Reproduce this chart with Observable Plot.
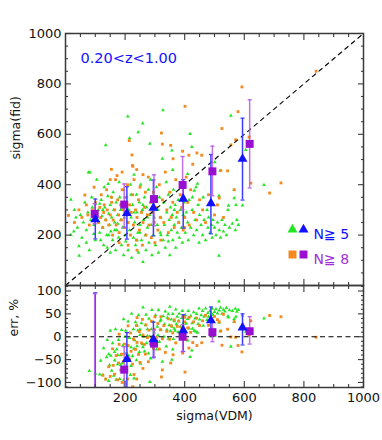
<!DOCTYPE html>
<html><head><meta charset="utf-8">
<script src="https://cdn.jsdelivr.net/npm/d3@7"></script>
<script src="https://cdn.jsdelivr.net/npm/@observablehq/plot@0.6"></script>
<style>
body{margin:0;background:#fff;}
#chart{position:relative;width:382px;height:440px;overflow:hidden;}
#chart svg{display:block;position:absolute;left:0;overflow:visible;}
</style></head><body><div id="chart"></div>
<script>
// ---- axes / ticks ----
const xDomain = [0, 1000];
const fidDomain = [0, 1000];
const errDomain = [-111, 112];
const xTickLabels = [200, 400, 600, 800, 1000];
const xMinorTicks = [50,100,150,250,300,350,450,500,550,650,700,750,850,900,950];
const fidTickLabels = [200, 400, 600, 800, 1000];
const fidMinorTicks = [50,100,150,250,300,350,450,500,550,650,700,750,850,900,950];
const errTickLabels = [-100, -50, 0, 50, 100];
const errMinorTicks = [-110,-90,-80,-70,-60,-40,-30,-20,-10,10,20,30,40,60,70,80,90,110];

// ---- scatter: individual clusters [sigma(VDM), sigma(fid)] ----
const greenPts = [
[18,341],[18,201],[45,156],[46,118],[77,449],[30,300],[50,280],[60,250],[70,220],[65,330],[85,260],[90,310],[70,170],[40,230],[95,205],[55,190],[35,270],[88,350],[95,240],[80,140],[75,290],[28,215],[100,180],[100,325],
[105,420],[110,300],[112,250],[115,210],[118,180],[120,340],[122,275],[125,230],[128,160],[130,390],[132,310],[135,557],[135,260],[138,200],[140,150],[142,355],[145,285],[148,240],[150,130],[150,320],[152,215],[155,270],[158,180],[160,370],[162,300],[165,250],[168,140],[170,330],[172,220],[175,280],[178,190],[180,410],[182,350],[185,260],[188,160],[190,300],[192,230],[195,120],[196,380],[198,270],[200,200],[200,330],[105,270],[125,300],[145,200],[165,220],[185,300],[175,245],[155,350],[115,325],[143,403],[82,449],
[202,175],[205,350],[208,250],[209,671],[210,140],[212,300],[215,585],[215,220],[218,400],[220,270],[222,110],[225,320],[228,190],[230,440],[232,250],[235,160],[238,360],[240,290],[243,210],[244,608],[245,130],[248,330],[250,240],[252,400],[255,180],[258,300],[259,643],[260,94],[262,260],[265,350],[268,200],[270,140],[272,310],[275,230],[278,380],[280,170],[283,563],[282,280],[285,420],[288,240],[290,120],[292,330],[295,200],[298,270],[220,360],[240,180],[260,320],[275,270],[250,210],[230,290],
[302,160],[305,390],[308,240],[310,300],[312,130],[315,350],[318,210],[320,270],[325,503],[327,696],[328,180],[330,330],[332,240],[335,150],[338,410],[340,290],[342,200],[345,360],[348,260],[350,120],[352,310],[355,220],[357,536],[358,280],[360,459],[360,180],[362,380],[365,240],[368,320],[370,150],[372,270],[375,210],[378,340],[380,250],[382,190],[385,300],[388,400],[390,230],[392,170],[395,280],[398,330],[320,200],[345,175],[365,300],
[402,210],[405,290],[410,250],[410,443],[412,180],[415,340],[418,602],[420,230],[424,550],[426,350],[425,300],[430,200],[432,376],[435,260],[438,390],[440,220],[443,404],[445,320],[448,170],[450,280],[455,240],[460,200],[462,350],[465,260],[470,180],[475,300],[478,230],[480,270],[485,210],[490,240],[492,190],[495,260],[500,230],
[501,489],[505,200],[510,250],[515,118],[515,356],[516,220],[519,456],[520,190],[525,260],[530,215],[535,240],[540,200],[545,300],[547,317],[550,230],[555,674],[560,245],[566,379],[566,347],[570,220],[572,320],[575,260],[580,240],[594,318],[605,538],[666,399]
];
const orangePts = [
[10,278],[65,359],[96,390],[154,350],[154,461],[173,436],[225,476],[223,518],[226,473],[239,460],[214,575],[322,605],[325,561],[353,556],[393,533],[401,711],[414,517],[441,526],[457,517],[361,503],[427,481],[521,456],[544,455],[525,623],[555,558],[571,578],[579,690],[592,788],[616,589],[841,850],[723,407],[685,367],[622,406],[566,380],[516,347],
[30,250],[45,300],[55,270],[70,320],[75,280],[80,240],[90,300],[95,260],[100,330],[105,290],[110,250],[115,310],[118,270],[120,360],[125,230],[128,290],[130,320],[135,260],[138,380],[140,300],[145,240],[150,280],[155,330],[158,200],[160,260],[165,300],[168,420],[170,240],[175,340],[178,280],[180,210],[185,320],[188,260],[190,380],[195,300],[198,230],[200,350],[205,280],[208,400],[210,250],[215,320],[218,200],[220,290],[225,360],[228,240],[230,420],[235,300],[238,180],[240,270],[245,340],[248,220],[250,390],[255,290],[258,160],[260,250],[265,310],[268,370],[270,200],[275,280],[278,430],[280,240],[285,330],[288,190],[290,290],[295,370],[298,250],[300,170],[305,310],[310,220],[315,400],[318,270],[320,180],[325,340],[330,250],[335,450],[340,300],[345,210],[350,370],[355,270],[360,330],[365,230],[370,420],[375,290],[380,250],[385,360],[390,310],[395,220],[400,270],[405,430],[410,330],[415,240],[420,380],[430,290],[440,260],[450,340],[460,300],[470,250],[480,360],[500,280],[510,320],[530,270],[150,420],[190,450],[260,440],[210,160],[240,140],[180,170],[400,230]
];

// ---- binned means: N>=5 (triangles) and N>=8 (squares) ----
const n5X      = [100, 206, 295, 395, 488, 594];
const n5Fid    = [262, 287, 308, 344, 326, 502];
const n5FidLo  = [185, 184, 197, 228, 205, 339];
const n5FidHi  = [343, 392, 419, 420, 520, 664];
const n5Err    = [-160, -49, -6, 14, 36, 20];
const n5ErrLo  = [-400, -140, -46, -32, 5, -18];
const n5ErrHi  = [96, 9, 32, 48, 65, 50];

const n8X      = [98, 197, 297, 393, 493, 618];
const n8Fid    = [284, 321, 343, 399, 453, 562];
const n8FidLo  = [245, 230, 237, 300, 356, 387];
const n8FidHi  = [325, 403, 439, 512, 553, 737];
const n8Err    = [-185, -72, -15, 0, 10, 12];
const n8ErrLo  = [-400, -140, -44, -33, -11, -16];
const n8ErrHi  = [94, -22, 15, 26, 33, 44];

const zLabel = "0.20<z<1.00";
const legendN5 = "N≧ 5";
const legendN8 = "N≧ 8";

// ---- derived tables ----
const toErr = ([v, f]) => [v, (v - f) / v * 100];
const greenErr = greenPts.map(toErr);
const orangeErr = orangePts.map(toErr);
const tbl = (xs, ys, lo, hi) => xs.map((x, i) => ({x, y: ys[i], lo: lo[i], hi: hi[i]}));
const n5Top = tbl(n5X, n5Fid, n5FidLo, n5FidHi);
const n8Top = tbl(n8X, n8Fid, n8FidLo, n8FidHi);
const n5Bot = tbl(n5X, n5Err, n5ErrLo, n5ErrHi);
const n8Bot = tbl(n8X, n8Err, n8ErrLo, n8ErrHi);

// ---- style ----
const FONT = "DejaVu Sans, sans-serif";
const G = "#22e622", O = "#f28a1e", B = "#1212ff", P = "#980fd0", BB = "#3c3cff", PB = "#b458e6";
const FR = "#3a3a3a";
const cap = {draw(ctx, size) { const w = Math.sqrt(size) / 2; ctx.moveTo(-w, 0); ctx.lineTo(w, 0); }};
const fmt = d3.format("d");

function tickMarks(yMajor, yMinor) {
  const t = {stroke: FR, strokeWidth: 1.1, tickFormat: () => "", label: null};
  return [
    Plot.axisX({...t, anchor: "bottom", ticks: xTickLabels, tickSize: -6}),
    Plot.axisX({...t, anchor: "top", ticks: xTickLabels, tickSize: -6}),
    Plot.axisX({...t, anchor: "bottom", ticks: xMinorTicks, tickSize: -3}),
    Plot.axisX({...t, anchor: "top", ticks: xMinorTicks, tickSize: -3}),
    Plot.axisY({...t, anchor: "left", ticks: yMajor, tickSize: -6}),
    Plot.axisY({...t, anchor: "right", ticks: yMajor, tickSize: -6}),
    Plot.axisY({...t, anchor: "left", ticks: yMinor, tickSize: -3}),
    Plot.axisY({...t, anchor: "right", ticks: yMinor, tickSize: -3})
  ];
}
function summaryMarks(n5, n8) {
  return [
    Plot.ruleX(n5, {x: "x", y1: "lo", y2: "hi", stroke: BB, strokeWidth: 1.5, clip: true}),
    Plot.dot(n5, {x: "x", y: "hi", symbol: cap, r: 2.3, stroke: BB, fill: "none", strokeWidth: 1.2, clip: true}),
    Plot.dot(n5, {x: "x", y: "lo", symbol: cap, r: 2.3, stroke: BB, fill: "none", strokeWidth: 1.2, clip: true}),
    Plot.ruleX(n8, {x: "x", y1: "lo", y2: "hi", stroke: PB, strokeWidth: 1.5, strokeOpacity: 0.85, clip: true}),
    Plot.dot(n8, {x: "x", y: "hi", symbol: cap, r: 2.3, stroke: PB, fill: "none", strokeWidth: 1.2, clip: true}),
    Plot.dot(n8, {x: "x", y: "lo", symbol: cap, r: 2.3, stroke: PB, fill: "none", strokeWidth: 1.2, clip: true}),
    Plot.dot(n8, {x: "x", y: "y", symbol: "square", r: 4.5, fill: P, clip: true}),
    Plot.dot(n5, {x: "x", y: "y", symbol: "triangle", r: 3.7, fill: B, clip: true})
  ];
}

const topPlot = Plot.plot({
  width: 382, height: 285,
  marginTop: 33, marginBottom: 0, marginLeft: 65, marginRight: 19,
  style: {fontFamily: FONT, fontSize: "13px", color: "#111", background: "transparent", overflow: "visible"},
  x: {domain: xDomain},
  y: {domain: fidDomain},
  marks: [
    Plot.dot(greenPts, {x: d => d[0], y: d => d[1], symbol: "triangle", r: 1.4, fill: G, clip: true}),
    Plot.dot(orangePts, {x: d => d[0], y: d => d[1], symbol: "square", r: 1.6, fill: O, clip: true}),
    Plot.link([xDomain], {x1: d => d[0], y1: d => d[0], x2: d => d[1], y2: d => d[1], stroke: "#000", strokeWidth: 1.1, strokeDasharray: "5,3.5"}),
    ...summaryMarks(n5Top, n8Top),
    Plot.frame({stroke: FR, strokeWidth: 1.5}),
    ...tickMarks(fidTickLabels, fidMinorTicks),
    Plot.axisY({anchor: "left", ticks: fidTickLabels, tickSize: 0, tickPadding: 4, tickFormat: fmt, label: null, fontSize: 13}),
    Plot.text([ "sigma(fid)" ], {text: d => d, frameAnchor: "left", dx: -50, rotate: -90, fontSize: 12.5}),
    Plot.text([zLabel], {text: d => d, frameAnchor: "top-left", dx: 15, dy: 19, textAnchor: "start", fill: B, fontSize: 14.5}),
    Plot.dot([legendN5], {frameAnchor: "top-left", dx: 227, dy: 196, symbol: "triangle", r: 3.7, fill: G}),
    Plot.dot([legendN5], {frameAnchor: "top-left", dx: 238, dy: 196, symbol: "triangle", r: 3.7, fill: B}),
    Plot.text([legendN5], {text: d => d, frameAnchor: "top-left", dx: 248, dy: 196, textAnchor: "start", fill: B, fontSize: 14}),
    Plot.dot([legendN8], {frameAnchor: "top-left", dx: 227, dy: 221, symbol: "square", r: 4.5, fill: O}),
    Plot.dot([legendN8], {frameAnchor: "top-left", dx: 238, dy: 221, symbol: "square", r: 4.5, fill: P}),
    Plot.text([legendN8], {text: d => d, frameAnchor: "top-left", dx: 248, dy: 221, textAnchor: "start", fill: "#a030d8", fontSize: 14})
  ]
});

const bottomPlot = Plot.plot({
  width: 382, height: 155,
  marginTop: 0, marginBottom: 53, marginLeft: 65, marginRight: 19,
  style: {fontFamily: FONT, fontSize: "13px", color: "#111", background: "transparent", overflow: "visible"},
  x: {domain: xDomain},
  y: {domain: errDomain},
  marks: [
    Plot.dot(greenErr, {x: d => d[0], y: d => d[1], symbol: "triangle", r: 1.4, fill: G, clip: true}),
    Plot.dot(orangeErr, {x: d => d[0], y: d => d[1], symbol: "square", r: 1.6, fill: O, clip: true}),
    Plot.ruleY([0], {stroke: "#000", strokeWidth: 1.1, strokeDasharray: "5,3.5"}),
    ...summaryMarks(n5Bot, n8Bot),
    Plot.frame({stroke: FR, strokeWidth: 1.5}),
    ...tickMarks(errTickLabels, errMinorTicks),
    Plot.axisY({anchor: "left", ticks: errTickLabels, tickSize: 0, tickPadding: 4, tickFormat: fmt, label: null, fontSize: 13}),
    Plot.axisX({anchor: "bottom", ticks: xTickLabels, tickSize: 0, tickPadding: 5, tickFormat: fmt, label: null, fontSize: 13}),
    Plot.text(["err, %"], {text: d => d, frameAnchor: "left", dx: -52, rotate: -90, fontSize: 12.5}),
    Plot.text(["sigma(VDM)"], {text: d => d, frameAnchor: "bottom", dy: 32, fontSize: 12.5})
  ]
});

const chart = document.getElementById("chart");
topPlot.style.top = "0px";
bottomPlot.style.top = "285px";
chart.appendChild(topPlot);
chart.appendChild(bottomPlot);
</script>
</body></html>
